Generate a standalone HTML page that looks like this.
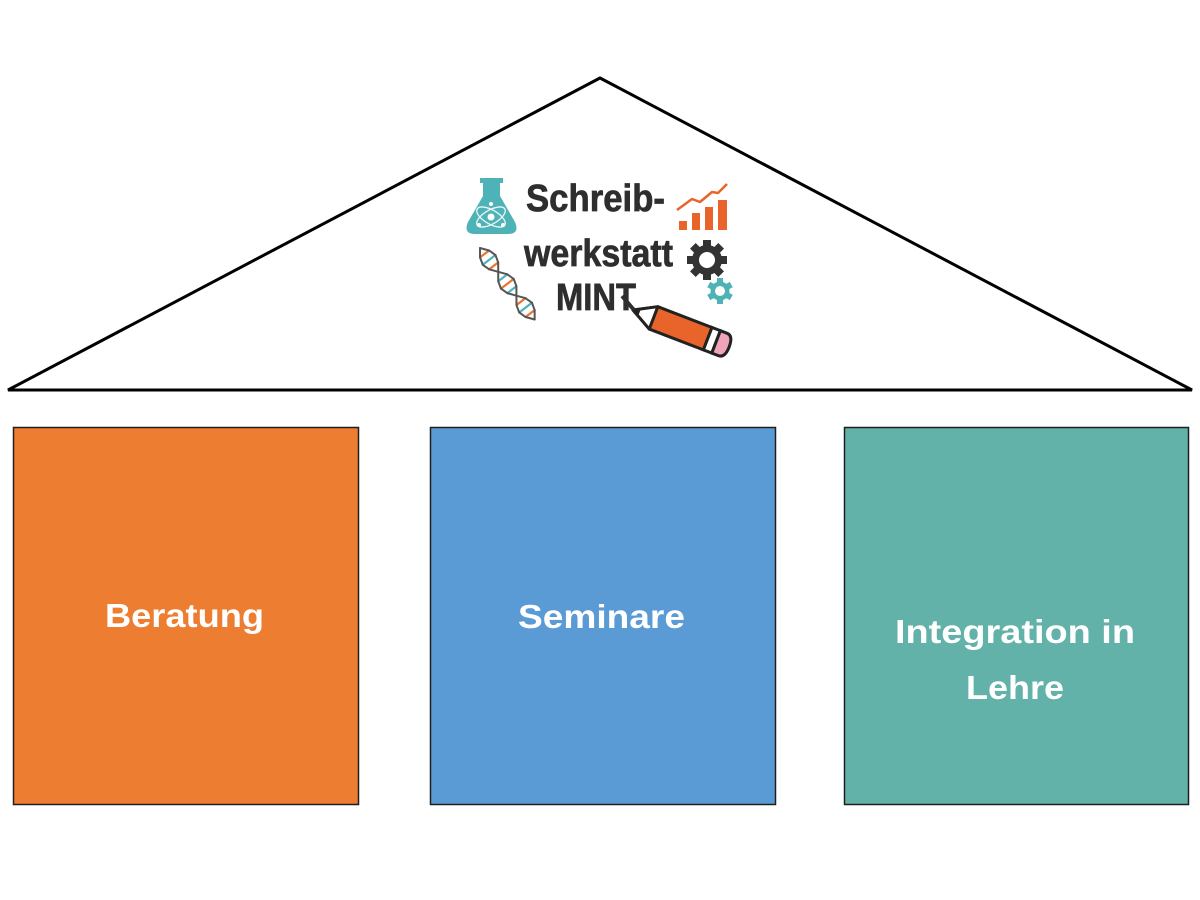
<!DOCTYPE html>
<html>
<head>
<meta charset="utf-8">
<style>
  html,body{margin:0;padding:0;background:#fff;}
  svg{display:block;}
</style>
</head>
<body>
<svg width="1200" height="900" viewBox="0 0 1200 900" xmlns="http://www.w3.org/2000/svg">
  <rect x="0" y="0" width="1200" height="900" fill="#ffffff"/>
  <!-- roof -->
  <polygon points="8,390 600,78 1192,390" fill="#ffffff" stroke="#000" stroke-width="3" stroke-linejoin="miter"/>

  <!-- logo text -->
  <g font-family="'Liberation Sans Narrow','Liberation Sans',sans-serif" font-weight="bold" fill="#2e2e2e" stroke="#2e2e2e" stroke-width="0.7">
    <text x="526" y="211" font-size="38" textLength="139" lengthAdjust="spacingAndGlyphs">Schreib-</text>
    <text x="524" y="266" font-size="38" textLength="149" lengthAdjust="spacingAndGlyphs">werkstatt</text>
    <text x="556" y="310" font-size="38" textLength="80" lengthAdjust="spacingAndGlyphs">MINT</text>
  </g>

  <!-- flask -->
  <g>
    <path d="M480,178 L503,178 L503,183 L500,183 L500,196 L515,222 Q520,234 508,234 L475,234 Q463,234 468,222 L483,196 L483,183 L480,183 Z" fill="#4db3b6"/>
    <g stroke="#ffffff" stroke-width="1.3" fill="none" opacity="0.9">
      <ellipse cx="491" cy="217" rx="16" ry="7" transform="rotate(30 491 217)"/>
      <ellipse cx="491" cy="217" rx="16" ry="7" transform="rotate(-30 491 217)"/>
    </g>
    <circle cx="491" cy="217" r="3.5" fill="#fff"/>
    <circle cx="491" cy="204" r="2" fill="#fff"/>
    <circle cx="479" cy="225" r="2" fill="#fff"/>
    <circle cx="503" cy="225" r="2" fill="#fff"/>
  </g>

  <!-- DNA -->
  <g transform="translate(480,248) rotate(52.6)" fill="none" stroke-linecap="round">
    <g stroke-width="2.2">
      <line x1="7.5" y1="-5.7" x2="7.5" y2="5.7" stroke="#e8742f"/>
      <line x1="15" y1="-8" x2="15" y2="8" stroke="#4db3b6"/>
      <line x1="22.5" y1="-5.7" x2="22.5" y2="5.7" stroke="#e8742f"/>
      <line x1="37.5" y1="-5.7" x2="37.5" y2="5.7" stroke="#4db3b6"/>
      <line x1="45" y1="-8" x2="45" y2="8" stroke="#e8742f"/>
      <line x1="52.5" y1="-5.7" x2="52.5" y2="5.7" stroke="#4db3b6"/>
      <line x1="67.5" y1="-5.7" x2="67.5" y2="5.7" stroke="#e8742f"/>
      <line x1="75" y1="-8" x2="75" y2="8" stroke="#4db3b6"/>
      <line x1="82.5" y1="-5.7" x2="82.5" y2="5.7" stroke="#e8742f"/>
    </g>
    <g stroke="#555" stroke-width="2" stroke-linejoin="round">
      <polyline points="0,0 7.5,5.7 15,8 22.5,5.7 30,0 37.5,-5.7 45,-8 52.5,-5.7 60,0 67.5,5.7 75,8 82.5,5.7 90,0"/>
      <polyline points="0,0 7.5,-5.7 15,-8 22.5,-5.7 30,0 37.5,5.7 45,8 52.5,5.7 60,0 67.5,-5.7 75,-8 82.5,-5.7 90,0"/>
    </g>
  </g>

  <!-- chart -->
  <g fill="#e8642a">
    <rect x="679" y="221" width="8" height="9"/>
    <rect x="692" y="213" width="8" height="17"/>
    <rect x="705" y="207" width="8" height="23"/>
    <rect x="718" y="200" width="9" height="30"/>
  </g>
  <polyline points="677,210 692,199 700,202 712,192 718,193 727,184" fill="none" stroke="#e8642a" stroke-width="2.5" stroke-linejoin="round"/>

  <!-- dark gear -->
  <g transform="translate(707,260)">
    <g fill="#333">
      <rect x="-4" y="-20" width="8" height="40"/>
      <rect x="-4" y="-20" width="8" height="40" transform="rotate(45)"/>
      <rect x="-4" y="-20" width="8" height="40" transform="rotate(90)"/>
      <rect x="-4" y="-20" width="8" height="40" transform="rotate(135)"/>
      <circle r="15"/>
    </g>
    <circle r="8" fill="#fff"/>
  </g>
  <!-- teal gear -->
  <g transform="translate(720,291)">
    <g fill="#4db3b6">
      <rect x="-3" y="-13" width="6" height="26"/>
      <rect x="-3" y="-13" width="6" height="26" transform="rotate(60)"/>
      <rect x="-3" y="-13" width="6" height="26" transform="rotate(120)"/>
      <circle r="9.5"/>
    </g>
    <circle r="5" fill="#fff"/>
  </g>

  <!-- pencil -->
  <g transform="translate(633,310) rotate(21)">
    <path d="M0,0 L22,-12 L80,-12 L80,12 L22,12 Z" fill="#e8642a" stroke="#222" stroke-width="3" stroke-linejoin="round"/>
    <path d="M0,0 L22,-12 L22,12 Z" fill="#ffffff" stroke="#222" stroke-width="3" stroke-linejoin="round"/>
    <path d="M0,0 L7,-4 L7,4 Z" fill="#222"/>
    <rect x="80" y="-12" width="9" height="24" fill="#ffffff" stroke="#222" stroke-width="3"/>
    <path d="M89,-12 L96,-12 Q103,-12 103,0 Q103,12 96,12 L89,12 Z" fill="#f1a3b8" stroke="#222" stroke-width="3"/>
  </g>
  <line x1="622" y1="296" x2="634" y2="310" stroke="#2e2e2e" stroke-width="4"/>

  <!-- boxes -->
  <rect x="13.5" y="427.5" width="345" height="377" fill="#ed7d31" stroke="#1f1f1f" stroke-width="1.5"/>
  <rect x="430.5" y="427.5" width="345" height="377" fill="#5b9bd5" stroke="#1f1f1f" stroke-width="1.5"/>
  <rect x="844.5" y="427.5" width="344" height="377" fill="#63b2a9" stroke="#1f1f1f" stroke-width="1.5"/>

  <g font-family="'Liberation Sans',sans-serif" font-weight="bold" fill="#ffffff" font-size="33">
    <text x="105" y="627" textLength="159" lengthAdjust="spacingAndGlyphs">Beratung</text>
    <text x="518" y="628" textLength="167" lengthAdjust="spacingAndGlyphs">Seminare</text>
    <text x="895" y="643" textLength="240" lengthAdjust="spacingAndGlyphs">Integration in</text>
    <text x="966" y="699" textLength="98" lengthAdjust="spacingAndGlyphs">Lehre</text>
  </g>
</svg>
</body>
</html>
